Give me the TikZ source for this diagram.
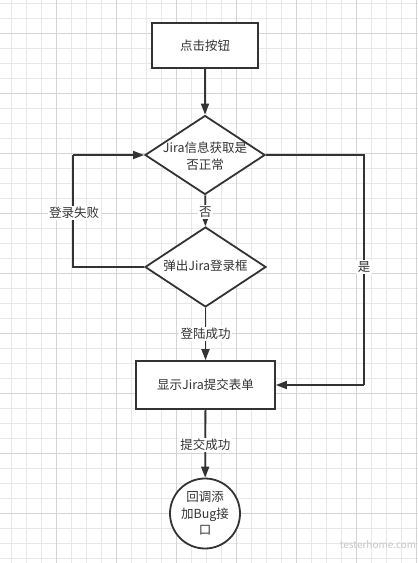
\documentclass[tikz,border=0pt]{standalone}
\usepackage{fontspec}
\setmainfont{Noto Sans CJK SC}
\usetikzlibrary{shapes.geometric,arrows.meta}
\definecolor{ink}{HTML}{333333}
\definecolor{gridminor}{HTML}{E8E8E8}
\definecolor{gridmajor}{HTML}{D4D4D4}
\begin{document}
\begin{tikzpicture}[x=1pt,y=-1pt,
  every node/.style={font=\fontsize{12.5}{16.5}\selectfont, text=ink},
  procbox/.style={draw=ink, line width=1.8pt, rectangle, fill=white, inner sep=0pt},
  decision/.style={draw=ink, line width=1.8pt, diamond, fill=white, inner sep=0pt},
  endcircle/.style={draw=ink, line width=1.8pt, circle, fill=white, inner sep=0pt, minimum size=70pt},
  flow/.style={draw=ink, line width=1.8pt, -{Triangle[width=8pt,length=11pt]}},
  plain/.style={draw=ink, line width=1.8pt},
  lbl/.style={fill=white, inner sep=1.5pt},
  minorline/.style={draw=gridminor, line width=0.8pt},
  majorline/.style={draw=gridmajor, line width=0.8pt}]
\useasboundingbox (0,0) rectangle (418,563);
\fill[white] (0,0) rectangle (418,563);
% grid
\foreach \i in {0,...,27} \draw[minorline] ({11.7+15*\i},0) -- ({11.7+15*\i},563);
\foreach \j in {0,...,37} \draw[minorline] (0,{3.3+15*\j}) -- (418,{3.3+15*\j});
\foreach \i in {0,...,6} \draw[majorline] ({56.7+60*\i},0) -- ({56.7+60*\i},563);
\foreach \j in {0,...,8} \draw[majorline] (0,{33.3+60*\j}) -- (418,{33.3+60*\j});

% nodes
\node[procbox, minimum width=106pt, minimum height=45pt] (b1) at (205,45.5) {点击按钮};
\node[decision, minimum width=120pt, minimum height=79pt] (d1) at (205,155) {};
\node[align=center] (t1) at (205,156) {Jira信息获取是\\否正常};
\node[decision, minimum width=121pt, minimum height=80pt] (d2) at (205.5,267) {};
\node (t2) at (205.5,266) {弹出Jira登录框};
\node[procbox, minimum width=139pt, minimum height=48pt] (b2) at (205.5,385) {显示Jira提交表单};
\node[endcircle, align=center] (c) at (205,513.5) {回调添\\加Bug接\\口};

\coordinate (lt) at (73,155);
\coordinate (lb) at (73,267);
\coordinate (rt) at (364,155);
\coordinate (rb) at (364,385);

% connectors
\draw[flow] (b1) -- (d1);
\draw[flow] (d1) -- node[lbl, pos=0.55] {否} (d2);
\draw[flow] (d2) -- node[lbl, pos=0.5] {登陆成功} (b2);
\draw[flow] (b2) -- node[lbl, pos=0.52] {提交成功} (c);
\draw[plain] (d2.west) -- (lb) -- (lt);
\draw[flow] (lt) -- (d1.west);
\node[lbl] (lf) at (74,213) {登录失败};
\draw[plain] (d1.east) -- (rt) -- (rb);
\draw[flow] (rb) -- (b2.east);
\node[lbl] (ys) at (364,267) {是};

% watermark
\node[text=black!22, font=\fontsize{10}{12}\selectfont] (wm) at (378,545) {testerhome.com};
\end{tikzpicture}
\end{document}
